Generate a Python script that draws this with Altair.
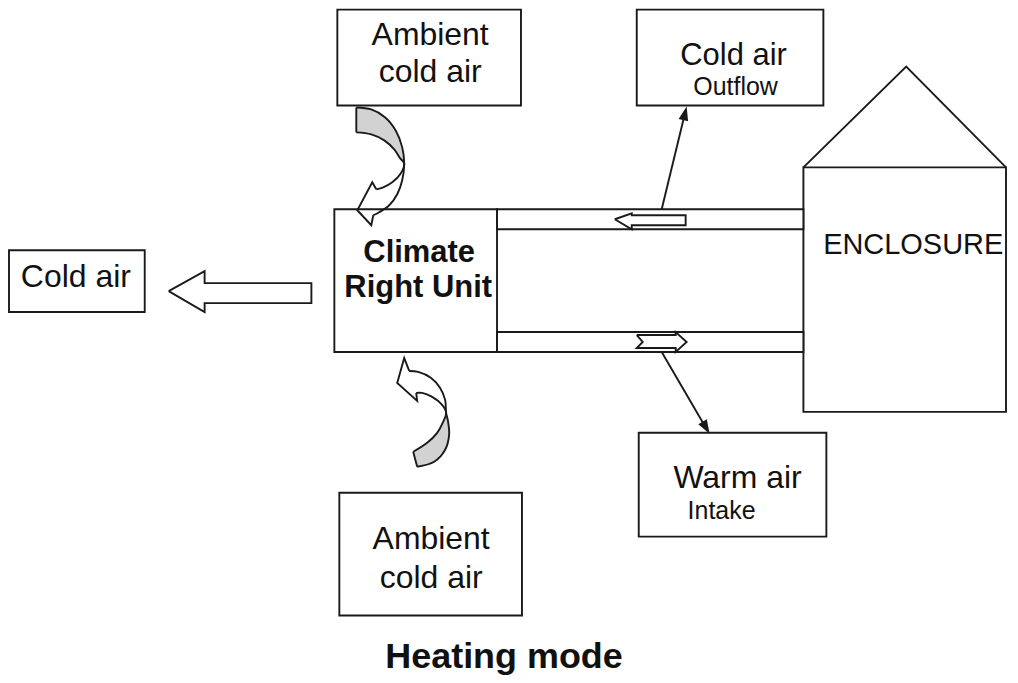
import altair as alt
import pandas as pd

# ---------------- data (page-pixel coordinates) ----------------
# boxes: Ambient(top), Outflow, Cold air(left), Climate unit, Warm air, Ambient(bottom), Enclosure, ducts
box_name = ["amb_top", "outflow", "cold_left", "unit", "intake", "amb_bot", "enclosure", "duct_top", "duct_bot"]
box_x1 = [338, 638, 9, 335, 640, 340, 805, 498, 498]
box_x2 = [522, 825, 145, 498, 828, 523, 1008, 805, 805]
box_y1 = [9, 9, 250, 209, 433, 493, 167, 209, 332]
box_y2 = [105, 105, 312, 352, 537, 616, 412, 229, 352]

# straight outlines
big_arrow_x = [169, 205, 205, 312, 312, 205, 205, 169]
big_arrow_y = [291, 271, 283, 283, 303, 303, 312, 291]
duct_arrow_top_x = [616, 633, 633, 687, 687, 633, 633, 616]
duct_arrow_top_y = [219, 213, 215, 215, 225, 225, 229, 219]
duct_arrow_bot_x = [638, 677, 677, 688, 677, 677, 638, 644, 638]
duct_arrow_bot_y = [335, 335, 332, 342, 352, 348, 348, 342, 335]
roof_x = [805, 908, 1008]
roof_y = [167, 66, 167]
outflow_line_x = [663, 687]
outflow_line_y = [209, 110]
intake_line_x = [663, 709]
intake_line_y = [352, 431]
curl_top_start_x = [357, 357]
curl_top_start_y = [107, 132]
curl_top_head_x = [377, 373, 358, 372, 374]
curl_top_head_y = [189, 182, 210, 225, 215]
curl_bot_start_x = [414, 418]
curl_bot_start_y = [452, 467]
curl_bot_head_x = [410, 405, 398, 418, 417]
curl_bot_head_y = [371, 358, 383, 401, 393]

# curved outlines
curl_top_outer_x = [357, 372, 386, 397, 403, 405, 403, 398, 390, 380, 374]
curl_top_outer_y = [107, 109, 117, 131, 147, 163, 180, 194, 205, 212, 215]
curl_top_inner_x = [357, 372, 385, 395, 401, 405, 401, 393, 384, 377]
curl_top_inner_y = [132, 134, 140, 149, 158, 163, 174, 182, 187, 189]
curl_bot_outer_x = [418, 435, 446, 450, 449, 447, 446, 441, 432, 419, 410]
curl_bot_outer_y = [467, 462, 450, 435, 422, 413, 400, 388, 378, 372, 371]
curl_bot_inner_x = [414, 428, 438, 444, 447, 443, 433, 423, 417]
curl_bot_inner_y = [452, 443, 433, 422, 413, 405, 397, 393, 393]

# grey (back side) of the curled arrows
top_gray_y = [107, 109, 117, 125, 132, 134, 140, 149, 158, 163]
top_gray_x1 = [357, 357, 357, 357, 357, 372, 385, 395, 401, 405]
top_gray_x2 = [362, 372, 386, 393, 398, 399, 401, 404, 405, 405]
bot_gray_y = [413, 420, 428, 435, 443, 450, 452, 455, 462, 465, 467]
bot_gray_x1 = [447, 445, 441, 436, 428, 417, 414, 415, 417, 417.5, 418]
bot_gray_x2 = [447, 449, 450, 450, 448, 446, 444, 441, 435, 425, 418]

# arrow heads of the thin lines (tip position and direction, degrees clockwise from up)
head_x = [688, 711]
head_y = [106, 434]
head_angle = [13.6, 149.7]

# texts
text_label = ["Ambient", "cold air", "Cold air", "Outflow", "Cold air", "ENCLOSURE",
              "Warm air", "Intake", "Ambient", "cold air"]
text_x = [431, 431, 735, 737, 76, 915, 739, 723, 432, 432]
text_y = [44, 81, 64, 95, 287, 254, 488, 519, 549, 588]
text_size = [32, 32, 31, 25, 32, 29, 32, 25, 32, 32]
bold_label = ["Climate", "Right Unit", "Heating mode"]
bold_x = [420, 419, 505]
bold_y = [262, 297, 669]
bold_size = [31, 31, 36]

# ---------------- build tables ----------------
INK = "#1a1a1a"
FONT = "Liberation Sans"
W, H = 1002, 667
XS = alt.Scale(domain=[8, 8 + W], nice=False, zero=False)
YS = alt.Scale(domain=[8, 8 + H], nice=False, zero=False, reverse=True)

boxes = pd.DataFrame(dict(name=box_name, x1=box_x1, x2=box_x2, y1=box_y1, y2=box_y2))


def segs(items):
    rows = []
    for name, xs, ys in items:
        for i, (x, y) in enumerate(zip(xs, ys)):
            rows.append(dict(seg=name, i=i, x=x, y=y))
    return pd.DataFrame(rows)


straight = segs([
    ("big", big_arrow_x, big_arrow_y),
    ("dtop", duct_arrow_top_x, duct_arrow_top_y),
    ("dbot", duct_arrow_bot_x, duct_arrow_bot_y),
    ("roof", roof_x, roof_y),
    ("outl", outflow_line_x, outflow_line_y),
    ("intl", intake_line_x, intake_line_y),
    ("cts", curl_top_start_x, curl_top_start_y),
    ("cth", curl_top_head_x, curl_top_head_y),
    ("cbs", curl_bot_start_x, curl_bot_start_y),
    ("cbh", curl_bot_head_x, curl_bot_head_y),
])
curved = segs([
    ("cto", curl_top_outer_x, curl_top_outer_y),
    ("cti", curl_top_inner_x, curl_top_inner_y),
    ("cbo", curl_bot_outer_x, curl_bot_outer_y),
    ("cbi", curl_bot_inner_x, curl_bot_inner_y),
])
gray_rows = []
for g, ys, a, b in [("t", top_gray_y, top_gray_x1, top_gray_x2), ("b", bot_gray_y, bot_gray_x1, bot_gray_x2)]:
    for y, x1, x2 in zip(ys, a, b):
        gray_rows.append(dict(g=g, y=y, x1=x1, x2=x2))
gray = pd.DataFrame(gray_rows)
heads = pd.DataFrame(dict(x=head_x, y=head_y, ang=head_angle))
texts = pd.DataFrame(dict(t=text_label, x=text_x, y=text_y, s=text_size))
btexts = pd.DataFrame(dict(t=bold_label, x=bold_x, y=bold_y, s=bold_size))

# ---------------- layers ----------------
SW = 1.9
rect_layer = alt.Chart(boxes).mark_rect(fill="white", stroke=INK, strokeWidth=SW).encode(
    x=alt.X("x1:Q", scale=XS, axis=None), x2="x2:Q",
    y=alt.Y("y1:Q", scale=YS, axis=None), y2="y2:Q",
)
gray_layer = alt.Chart(gray).mark_area(orient="horizontal", color="#d2d2d2", opacity=1).encode(
    y=alt.Y("y:Q", scale=YS, axis=None),
    x=alt.X("x1:Q", scale=XS, axis=None), x2="x2:Q",
    detail="g:N",
)
straight_layer = alt.Chart(straight).mark_line(color=INK, strokeWidth=SW, interpolate="linear",
                                                strokeJoin="miter").encode(
    x=alt.X("x:Q", scale=XS, axis=None), y=alt.Y("y:Q", scale=YS, axis=None),
    detail="seg:N", order="i:Q",
)
curved_layer = alt.Chart(curved).mark_line(color=INK, strokeWidth=SW, interpolate="catmull-rom").encode(
    x=alt.X("x:Q", scale=XS, axis=None), y=alt.Y("y:Q", scale=YS, axis=None),
    detail="seg:N", order="i:Q",
)
head_layer = alt.Chart(heads).mark_point(shape="M0,0L0.7,2L-0.7,2Z", filled=True, fill=INK,
                                         size=196, opacity=1, strokeWidth=0).encode(
    x=alt.X("x:Q", scale=XS, axis=None), y=alt.Y("y:Q", scale=YS, axis=None),
    angle=alt.Angle("ang:Q", scale=None),
)
text_layer = alt.Chart(texts).mark_text(font=FONT, color="#111", align="center",
                                        baseline="alphabetic").encode(
    x=alt.X("x:Q", scale=XS, axis=None), y=alt.Y("y:Q", scale=YS, axis=None),
    text="t:N", size=alt.Size("s:Q", scale=None),
)
bold_layer = alt.Chart(btexts).mark_text(font=FONT, fontWeight="bold", color="#111", align="center",
                                         baseline="alphabetic").encode(
    x=alt.X("x:Q", scale=XS, axis=None), y=alt.Y("y:Q", scale=YS, axis=None),
    text="t:N", size=alt.Size("s:Q", scale=None),
)

chart = alt.layer(rect_layer, gray_layer, straight_layer, curved_layer, head_layer,
                  text_layer, bold_layer).properties(
    width=W, height=H, padding=0, background="white"
).configure_view(stroke=None)

chart.save("out.html", embed_options={"renderer": "svg", "actions": False})
